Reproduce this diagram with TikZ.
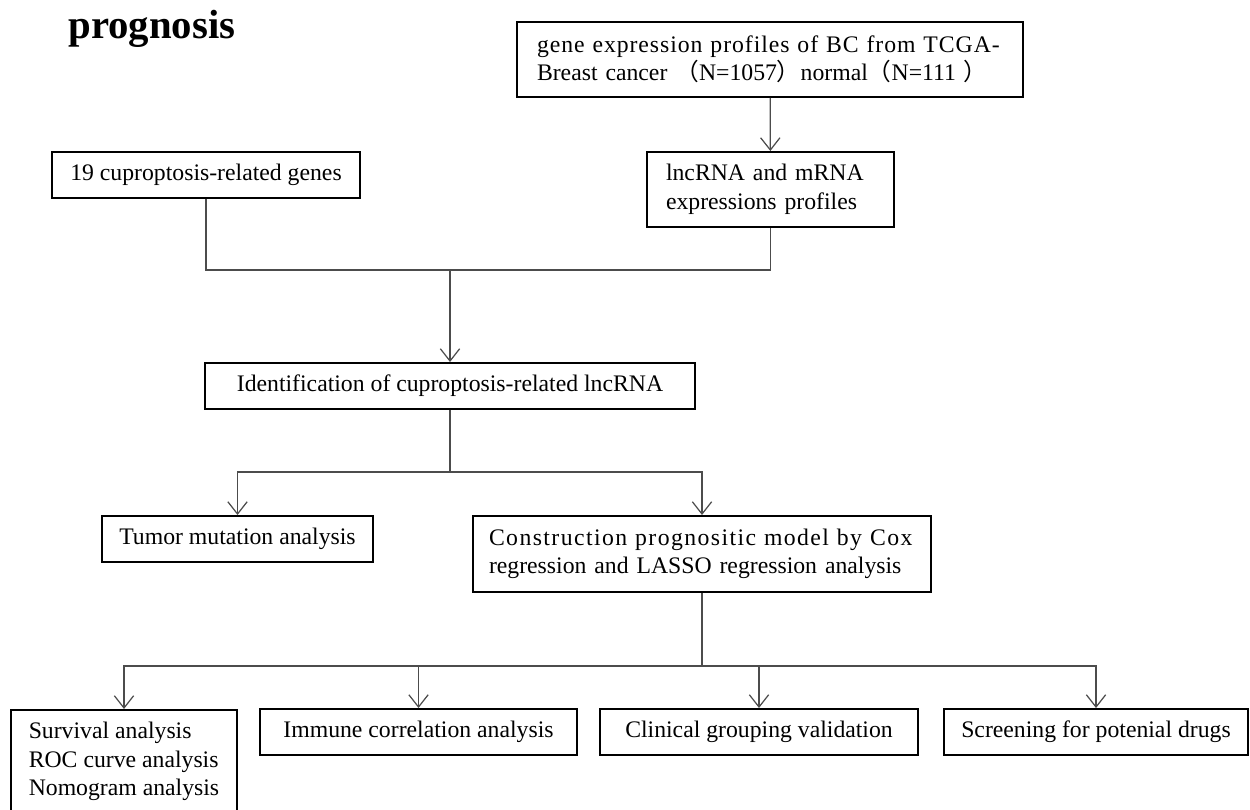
\documentclass[tikz,border=0pt]{standalone}
\usepackage{fontspec}
\setmainfont{Liberation Serif}
\newfontfamily\cjk{Noto Sans CJK SC}
\newcommand{\fwl}{{\cjk （}}
\newcommand{\fwr}{{\cjk ）}}
\usetikzlibrary{positioning, arrows.meta, calc}

\begin{document}
\begin{tikzpicture}[
    font=\fontsize{13.5}{16.2}\selectfont,
    box/.style={
        rectangle,
        draw,
        line width=1.1pt,
        inner xsep=0pt,
        inner ysep=0pt,
        minimum height=0.92cm,
        align=center
    },
    lbox/.style={ % left aligned text
        box,
        align=left
    },
    link/.style={
        line width=0.7pt,
        draw=black!70
    },
    arrow/.style={
        link,
        -{Straight Barb[length=7pt,width=11pt]}
    }
]
    \useasboundingbox (0,0) rectangle (25,16.2);

    \node[anchor=base west, inner sep=0pt, font=\bfseries\fontsize{23.2}{28}\selectfont] (title) at (1.36,15.42) {prognosis};

    % Data sources
    \node[lbox, text width=9.32cm, inner xsep=0.4cm, minimum height=1.5cm] (tcga) at (15.4,15.01)
        {{\addfontfeature{LetterSpace=4}gene expression profiles of BC from TCGA-}\\
         Breast cancer \fwl N=1057\fwr normal\fwl N=111 \fwr};
    \node[box, minimum width=6.16cm] (genes) at (4.12,12.7) {19 cuproptosis-related genes};
    \node[lbox, text width=4.18cm, inner xsep=0.38cm, minimum height=1.5cm] (lnc) at (15.41,12.41)
        {lncRNA and mRNA\\expressions profiles};
    \draw[arrow] (tcga) -- (lnc);

    % Merge
    \coordinate (merge) at (9.0,10.8);
    \node[box, minimum width=9.8cm] (ident) at (9.0,8.48) {Identification of cuproptosis-related lncRNA};
    \draw[link] (genes.south) |- (merge) -| (lnc.south);
    \draw[arrow] (merge) -- (ident);

    % Second level
    \coordinate (split1) at (9.0,6.76);
    \node[box, minimum width=5.42cm] (tumor) at (4.75,5.42) {Tumor mutation analysis};
    \node[lbox, text width=8.52cm, inner xsep=0.32cm, minimum height=1.52cm] (model) at (14.04,5.12)
        {{\addfontfeature{LetterSpace=6}Construction prognositic model by Cox}\\
         regression and LASSO regression analysis};
    \draw[link] (ident) -- (split1);
    \draw[arrow] (split1) -| (tumor);
    \draw[arrow] (split1) -| (model);

    % Analyses
    \coordinate (split2) at (14.04,2.88);
    \node[lbox, anchor=north, minimum width=4.52cm, minimum height=2.06cm] (surv) at (2.48,2.02)
        {Survival analysis\\ROC curve analysis\\Nomogram analysis};
    \node[box, minimum width=6.34cm] (immune) at (8.37,1.56) {Immune correlation analysis};
    \node[box, minimum width=6.36cm] (clinic) at (15.18,1.56) {Clinical grouping validation};
    \node[box, minimum width=6.08cm] (drugs) at (21.92,1.56) {Screening for potenial drugs};
    \draw[link] (model) -- (split2);
    \foreach \n in {surv, immune, clinic, drugs}
        \draw[arrow] (split2) -| (\n.north);

\end{tikzpicture}
\end{document}
